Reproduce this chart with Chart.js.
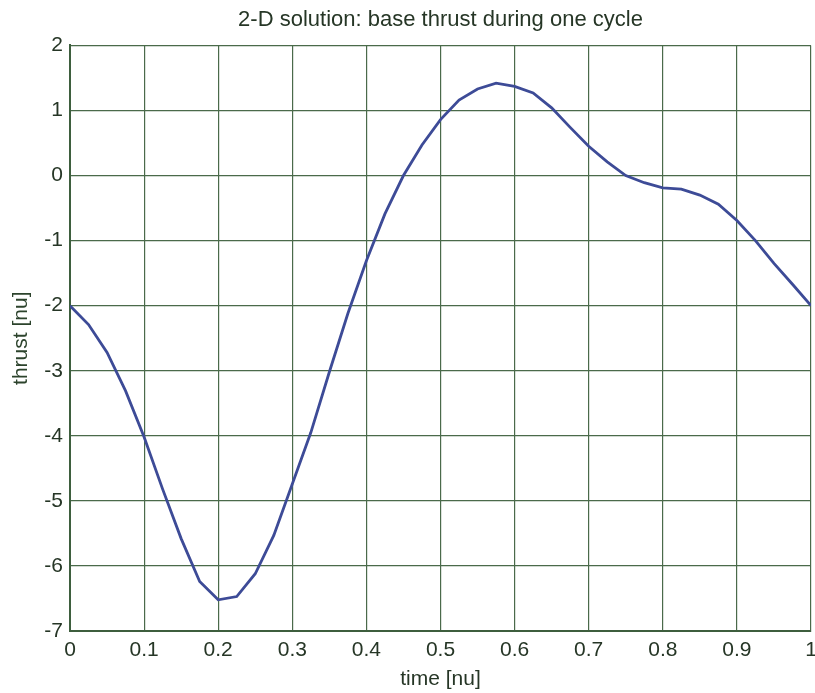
<!DOCTYPE html>
<html>
<head>
<meta charset="utf-8">
<script src="https://cdn.jsdelivr.net/npm/chart.js@4/dist/chart.umd.min.js"></script>
<style>
  html, body { margin: 0; padding: 0; background: #fff; }
  #wrap { width: 815px; height: 693px; }
</style>
</head>
<body>
<div id="wrap"><canvas id="thrustChart" width="815" height="693"></canvas></div>
<script>
// time samples over one cycle and the base thrust at each
const time = [0, 0.025, 0.05, 0.075, 0.1, 0.125, 0.15, 0.175, 0.2, 0.225,
              0.25, 0.275, 0.3, 0.325, 0.35, 0.375, 0.4, 0.425, 0.45, 0.475,
              0.5, 0.525, 0.55, 0.575, 0.6, 0.625, 0.65, 0.675, 0.7, 0.725,
              0.75, 0.775, 0.8, 0.825, 0.85, 0.875, 0.9, 0.925, 0.95, 0.975, 1];
const thrust = [-2, -2.29, -2.72, -3.31, -4.02, -4.82, -5.58, -6.24, -6.52, -6.47,
                -6.12, -5.53, -4.74, -3.95, -3.02, -2.12, -1.31, -0.59, 0.0, 0.47,
                0.86, 1.16, 1.33, 1.42, 1.37, 1.27, 1.04, 0.74, 0.45, 0.21,
                0.0, -0.11, -0.19, -0.21, -0.30, -0.44, -0.69, -1.0, -1.35, -1.67, -2];
const xTicks = [0, 0.1, 0.2, 0.3, 0.4, 0.5, 0.6, 0.7, 0.8, 0.9, 1];
const yTicks = [-7, -6, -5, -4, -3, -2, -1, 0, 1, 2];

const gridColor = '#4a6a4a';
const textColor = '#263626';
const font = 'Liberation Sans, Arial, sans-serif';

const ctx = document.getElementById('thrustChart').getContext('2d');
new Chart(ctx, {
    type: 'line',
    data: {
        datasets: [{
            label: 'thrust',
            data: time.map((t, i) => ({ x: t, y: thrust[i] })),
            borderColor: '#3d4b97',
            borderWidth: 2.8,
            pointRadius: 0,
            tension: 0,
            fill: false
        }]
    },
    options: {
        responsive: false,
        animation: false,
        layout: { padding: { left: 0, right: 4, top: 0, bottom: 0 } },
        plugins: {
            legend: { display: false },
            tooltip: { enabled: false },
            title: {
                display: true,
                fullSize: false,   // centre over the plot area, not the canvas
                text: '2-D solution: base thrust during one cycle',
                color: textColor,
                font: { family: font, size: 22, weight: 'normal' },
                padding: { top: 7, bottom: 12 }
            }
        },
        scales: {
            x: {
                type: 'linear',
                min: 0, max: 1,
                afterBuildTicks: s => { s.ticks = xTicks.map(v => ({ value: v })); },
                // let the end labels hang over the edge instead of shrinking the plot
                afterFit: s => { s.height = 62; s.paddingLeft = 0; s.paddingRight = 0; },
                ticks: {
                    color: textColor,
                    font: { family: font, size: 21 },
                    padding: 7,
                    maxRotation: 0,
                    callback: v => String(v)
                },
                grid: { color: gridColor, lineWidth: 1.2, drawTicks: false },
                border: { color: '#3e5e3e', width: 2 },
                title: {
                    display: true,
                    text: 'time [nu]',
                    color: textColor,
                    font: { family: font, size: 21 },
                    padding: { top: 0, bottom: 1 }
                }
            },
            y: {
                min: -7, max: 2,
                afterBuildTicks: s => { s.ticks = yTicks.map(v => ({ value: v })); },
                afterFit: s => { s.width = 70; },
                ticks: {
                    color: textColor,
                    font: { family: font, size: 21 },
                    padding: 7
                },
                grid: { color: gridColor, lineWidth: 1.2, drawTicks: false },
                border: { color: '#3e5e3e', width: 2 },
                title: {
                    display: true,
                    text: 'thrust [nu]',
                    color: '#2c432c',
                    font: { family: font, size: 21 },
                    padding: { top: 9, bottom: 0 }
                }
            }
        }
    }
});
</script>
</body>
</html>
